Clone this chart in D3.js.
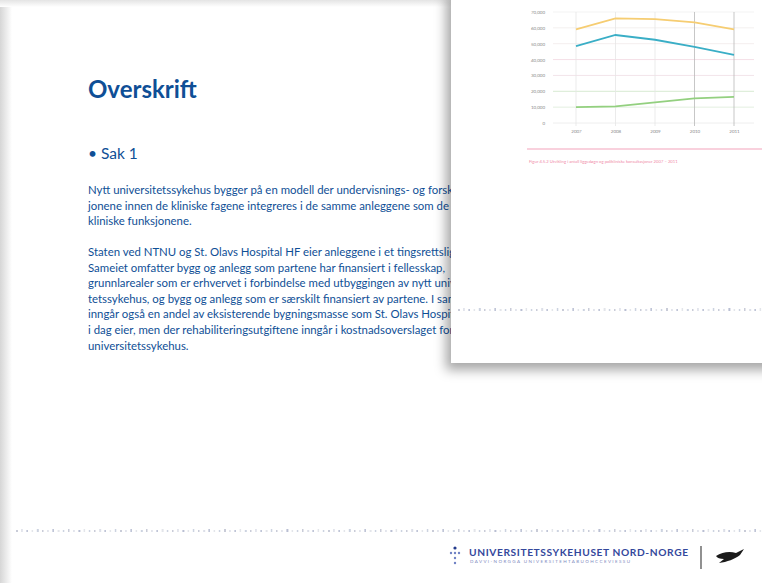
<!DOCTYPE html>
<html>
<head>
<meta charset="utf-8">
<script src="https://cdn.jsdelivr.net/npm/d3@7"></script>
<style>
  body { margin: 0; background: #fff; }
  svg { display: block; font-family: Lato, "Open Sans", sans-serif; }
</style>
</head>
<body>
<script>
// Chart data
var years = ["2007", "2008", "2009", "2010", "2011"];
var yellowSeries = [59000, 66000, 65500, 63500, 59000];
var blueSeries = [48500, 55500, 52500, 48000, 43000];
var greenSeries = [10000, 10500, 13000, 15500, 16500];
var yTicks = [0, 10000, 20000, 30000, 40000, 50000, 60000, 70000];

// Slide text
var title = "Overskrift";
var bullet = "Sak 1";
var para1 = [
  "Nytt universitetssykehus bygger på en modell der undervisnings- og forsknings-",
  "jonene innen de kliniske fagene integreres i de samme anleggene som de",
  "kliniske funksjonene."
];
var para2 = [
  "Staten ved NTNU og St. Olavs Hospital HF eier anleggene i et tingsrettslig sameie.",
  "Sameiet omfatter bygg og anlegg som partene har finansiert i fellesskap,",
  "grunnlarealer som er erhvervet i forbindelse med utbyggingen av nytt universi-",
  "tetssykehus, og bygg og anlegg som er særskilt finansiert av partene. I sameiet",
  "inngår også en andel av eksisterende bygningsmasse som St. Olavs Hospital HF",
  "i dag eier, men der rehabiliteringsutgiftene inngår i kostnadsoverslaget for nytt",
  "universitetssykehus."
];

var width = 762, height = 583;
var blue = "#0f4f96";

var svg = d3.select("body").append("svg")
  .attr("width", width)
  .attr("height", height);

var defs = svg.append("defs");

// soft frame on the left/top of the slide
var gl = defs.append("linearGradient").attr("id", "leftShade");
gl.append("stop").attr("offset", "0%").attr("stop-color", "#d6d6d6");
gl.append("stop").attr("offset", "100%").attr("stop-color", "#ffffff");
var gt = defs.append("linearGradient").attr("id", "topShade")
  .attr("x1", 0).attr("y1", 0).attr("x2", 0).attr("y2", 1);
gt.append("stop").attr("offset", "0%").attr("stop-color", "#e4e4e4");
gt.append("stop").attr("offset", "100%").attr("stop-color", "#ffffff");

var shadow = defs.append("filter").attr("id", "cardShadow")
  .attr("x", "-20%").attr("y", "-20%").attr("width", "140%").attr("height", "140%");
shadow.append("feDropShadow")
  .attr("dx", -5).attr("dy", 7).attr("stdDeviation", 6)
  .attr("flood-color", "#000").attr("flood-opacity", 0.35);

svg.append("rect").attr("width", width).attr("height", height).attr("fill", "#fff");
svg.append("rect").attr("x", 0).attr("y", 0).attr("width", 12).attr("height", height)
  .attr("fill", "url(#leftShade)");
svg.append("rect").attr("x", 0).attr("y", 0).attr("width", width).attr("height", 7)
  .attr("fill", "url(#topShade)");

// ----- slide text -----
svg.append("text")
  .attr("x", 88).attr("y", 98)
  .attr("fill", blue)
  .attr("font-size", 24)
  .attr("font-weight", "bold")
  .text(title);

svg.append("text")
  .attr("x", 88).attr("y", 159)
  .attr("fill", blue)
  .attr("font-size", 15.5)
  .text("\u2022 " + bullet);

var body = svg.append("g")
  .attr("fill", blue)
  .attr("font-size", 11.4);

body.selectAll("text.p1")
  .data(para1)
  .join("text")
  .attr("class", "p1")
  .attr("x", 88)
  .attr("y", (d, i) => 194 + i * 15.6)
  .text(d => d);

body.selectAll("text.p2")
  .data(para2)
  .join("text")
  .attr("class", "p2")
  .attr("x", 88)
  .attr("y", (d, i) => 256 + i * 15.6)
  .text(d => d);

// dotted decorative rule
function dottedRule(g, x0, x1, y) {
  var cols = ["#c9ccd8", "#dcdfe8", "#b9bfd3", "#e3e5ea", "#ccd3e0"];
  g.selectAll("rect")
    .data(d3.range(x0, x1, 5.2))
    .join("rect")
    .attr("x", d => d)
    .attr("y", (d, i) => y + (i % 3 === 1 ? -1 : 0))
    .attr("width", (d, i) => i % 4 === 0 ? 2 : 1.5)
    .attr("height", (d, i) => i % 3 === 1 ? 3 : 2)
    .attr("fill", (d, i) => cols[i % cols.length]);
}
dottedRule(svg.append("g"), 16, 762, 530);

// ----- footer logo -----
var logo = svg.append("g");
[[455, 548], [451, 553], [455, 553], [459, 553], [455, 558], [455, 563]].forEach(function (p, i) {
  logo.append("circle").attr("cx", p[0]).attr("cy", p[1]).attr("r", i === 0 ? 1.6 : 1.2)
    .attr("fill", i === 0 ? "#233a8c" : "#6f82c4");
});
logo.append("text")
  .attr("x", 469).attr("y", 556)
  .attr("fill", "#34489c")
  .attr("font-size", 10.2)
  .attr("font-weight", "bold")
  .attr("textLength", 219)
  .text("UNIVERSITETSSYKEHUSET NORD-NORGE");
logo.append("text")
  .attr("x", 470).attr("y", 563)
  .attr("fill", "#7f8cc2")
  .attr("font-size", 4.5)
  .attr("textLength", 160)
  .text("DAVVI-NORGGA UNIVERSITEHTABUOHCCEVIESSU");
logo.append("line")
  .attr("x1", 701).attr("x2", 701).attr("y1", 546).attr("y2", 569)
  .attr("stroke", "#555").attr("stroke-width", 1.3);
logo.append("path")
  .attr("d", "M716,556 C722,552 730,551 736,553 L744,549 L740,555 C735,559 727,562 719,563 L724,559 C720,559 717,558 716,556 Z")
  .attr("fill", "#1a1a1a");

// ----- embedded chart card -----
var card = svg.append("g");
card.append("rect")
  .attr("x", 451).attr("y", -10)
  .attr("width", 330).attr("height", 373)
  .attr("fill", "#fff")
  .attr("filter", "url(#cardShadow)");

dottedRule(card.append("g"), 458, 762, 309);

var plot = { left: 553, right: 754, top: 12, bottom: 123 };

var x = d3.scalePoint()
  .domain(years)
  .range([576, 734]);

var y = d3.scaleLinear()
  .domain([0, 70000])
  .range([plot.bottom, plot.top]);

var gridCols = ["#eeeeee", "#e3efe0", "#d7ead2", "#f2e4ea", "#f5dfe7", "#f4eeee", "#f3f0ef", "#f3f3f3"];
card.append("g")
  .selectAll("line")
  .data(yTicks)
  .join("line")
  .attr("x1", plot.left).attr("x2", plot.right)
  .attr("y1", d => y(d)).attr("y2", d => y(d))
  .attr("stroke", (d, i) => gridCols[i])
  .attr("stroke-width", 1);

card.append("g")
  .selectAll("line")
  .data(years)
  .join("line")
  .attr("x1", d => x(d)).attr("x2", d => x(d))
  .attr("y1", plot.top).attr("y2", plot.bottom + 3)
  .attr("stroke", (d, i) => i >= 3 ? "#b9b9b9" : "#e6e6e6")
  .attr("stroke-width", 0.8);

var yAxis = d3.axisLeft(y).tickValues(yTicks).tickSize(0).tickPadding(0);
var yg = card.append("g")
  .attr("transform", "translate(545,0)")
  .call(yAxis);
yg.select(".domain").remove();
yg.selectAll("text").attr("font-size", 4.5).attr("fill", "#8a8a8a").attr("font-family", "Lato, sans-serif");

var xAxis = d3.axisBottom(x).tickSize(0).tickPadding(0);
var xg = card.append("g")
  .attr("transform", "translate(0,130)")
  .call(xAxis);
xg.select(".domain").remove();
xg.selectAll("text").attr("font-size", 4.5).attr("fill", "#8a8a8a").attr("font-family", "Lato, sans-serif");

var line = d3.line()
  .x((d, i) => x(years[i]))
  .y(d => y(d));

[[yellowSeries, "#f6cd72"], [blueSeries, "#3aaec6"], [greenSeries, "#93d07f"]].forEach(function (s) {
  card.append("path")
    .attr("d", line(s[0]))
    .attr("fill", "none")
    .attr("stroke", s[1])
    .attr("stroke-width", 1.8);
});

// caption
card.append("line")
  .attr("x1", 527).attr("x2", 762)
  .attr("y1", 149).attr("y2", 149)
  .attr("stroke", "#f3a3bb").attr("stroke-width", 1.2);
card.append("text")
  .attr("x", 529).attr("y", 163)
  .attr("fill", "#f08aa8")
  .attr("font-size", 4.2)
  .text("Figur 4.5.2    Utvikling i antall liggedøgn og polikliniske konsultasjoner 2007 – 2011");
</script>
</body>
</html>
